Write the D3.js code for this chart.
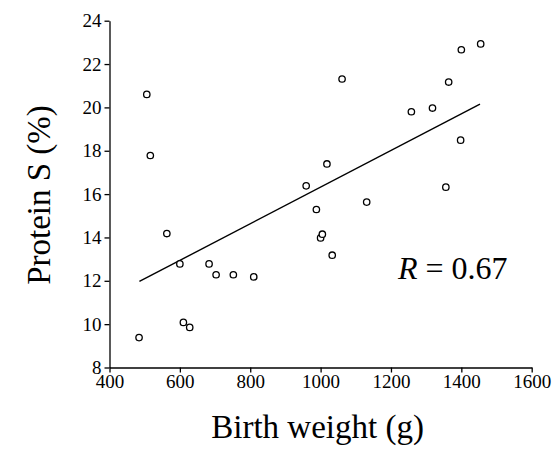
<!DOCTYPE html>
<html>
<head>
<meta charset="utf-8">
<script src="https://cdn.jsdelivr.net/npm/d3@7"></script>
<style>
	body { margin: 0; background: #fff; }
</style>
</head>
<body>
<div id="chart"></div>
<script>
// birth weight (g) vs protein S (%)
var birthWeight = [484, 506, 516, 563, 600, 610, 628, 683, 703, 752, 810, 959, 988, 1000, 1005, 1018, 1033, 1061, 1131, 1258, 1318, 1356, 1364, 1398, 1400, 1455];
var proteinS = [9.38, 20.6, 17.78, 14.18, 12.78, 10.08, 9.85, 12.78, 12.28, 12.28, 12.18, 16.38, 15.29, 13.98, 14.15, 17.39, 13.18, 21.31, 15.63, 19.8, 19.97, 16.32, 21.17, 18.49, 22.66, 22.93];

// regression line end points
var fitX = [485, 1453];
var fitY = [11.97, 20.15];

var xTicks = [400, 600, 800, 1000, 1200, 1400, 1600];
var yTicks = [8, 10, 12, 14, 16, 18, 20, 22, 24];

var serif = '"Times New Roman", "Liberation Serif", Times, "DejaVu Serif", serif';

var width = 556;
var height = 454;
var margin = {
	'top': 20.7,
	'bottom': 86.5,
	'left': 109.5,
	'right': 24.3,
};

var svg = d3.select('#chart').append('svg')
	.attr('width', width)
	.attr('height', height)
	.attr('font-family', serif);

var x = d3.scaleLinear()
	.domain([400, 1600])
	.range([margin.left, width - margin.right]);
var y = d3.scaleLinear()
	.domain([8, 24])
	.range([height - margin.bottom, margin.top]);

// axes
var xAxis = d3.axisBottom(x).tickValues(xTicks).tickFormat(d3.format('d'))
	.tickSize(5).tickPadding(2).tickSizeOuter(0);
var yAxis = d3.axisLeft(y).tickValues(yTicks).tickFormat(d3.format('d'))
	.tickSize(5).tickPadding(3).tickSizeOuter(0);

var gx = svg.append('g')
	.attr('transform', 'translate(0,' + y(8) + ')')
	.call(xAxis);
var gy = svg.append('g')
	.attr('transform', 'translate(' + x(400) + ',0)')
	.call(yAxis);

[gx, gy].forEach(function(g) {
	g.attr('font-family', serif).attr('font-size', 19);
	g.selectAll('path, line').attr('stroke', '#000').attr('stroke-width', 1.3);
	g.selectAll('text').attr('fill', '#000');
});

// fitted line
var pts = fitX.map(function(d, i) { return [d, fitY[i]]; });
svg.append('path')
	.datum(pts)
	.attr('d', d3.line().x(function(d) { return x(d[0]); }).y(function(d) { return y(d[1]); }))
	.attr('fill', 'none')
	.attr('stroke', '#000')
	.attr('stroke-width', 1.4);

// points
svg.append('g').selectAll('circle')
	.data(birthWeight)
	.enter().append('circle')
	.attr('cx', function(d) { return x(d); })
	.attr('cy', function(d, i) { return y(proteinS[i]); })
	.attr('r', 3.2)
	.attr('fill', '#fff')
	.attr('stroke', '#000')
	.attr('stroke-width', 1.3);

// labels
svg.append('text')
	.attr('x', (x(400) + x(1600)) / 2 - 3)
	.attr('y', 438)
	.attr('text-anchor', 'middle')
	.attr('font-size', 33)
	.text('Birth weight (g)');

svg.append('text')
	.attr('transform', 'translate(50,' + 195 + ') rotate(-90)')
	.attr('text-anchor', 'middle')
	.attr('font-size', 33)
	.text('Protein S (%)');

var rText = svg.append('text')
	.attr('x', 398)
	.attr('y', 278.5)
	.attr('font-size', 32);
rText.append('tspan').attr('font-style', 'italic').text('R');
rText.append('tspan').text(' = 0.67');
</script>
</body>
</html>
